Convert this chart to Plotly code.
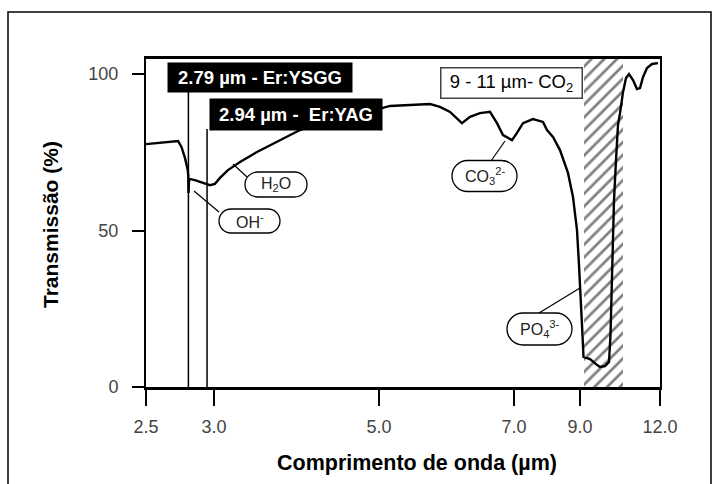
import numpy as np
import plotly.graph_objects as go

# ---------------- data ----------------
WAVELENGTH_UM = [
    2.500, 2.622, 2.713, 2.738, 2.764, 2.785, 2.789, 2.791, 2.795, 2.840,
    2.901, 2.965, 3.007, 3.044, 3.105, 3.202, 3.349, 3.571, 3.790, 4.174,
    4.644, 5.032, 5.119, 5.605, 5.741, 5.884, 6.065, 6.193, 6.359, 6.535,
    6.664, 6.779, 6.878, 6.959, 7.071, 7.219, 7.478, 7.757, 7.875, 8.058,
    8.282, 8.555, 8.735, 8.884, 8.961, 9.028, 9.071, 9.099, 9.290, 9.473,
    9.600, 9.763, 9.897, 9.948, 10.000, 10.070, 10.141, 10.212, 10.286, 10.397,
    10.511, 10.627, 10.786, 10.950, 11.077, 11.206, 11.383, 11.613, 11.901,
]
TRANSMISSION_PCT = [
    77.6, 78.3, 78.6, 76.7, 73.2, 69.3, 67.4, 62.0, 66.5, 66.1,
    65.2, 64.5, 64.9, 66.8, 69.3, 71.9, 75.1, 78.9, 82.1, 85.6,
    88.2, 89.1, 89.8, 90.4, 89.5, 87.9, 84.3, 86.3, 87.5, 87.9,
    84.3, 80.5, 79.6, 78.9, 81.2, 84.3, 85.6, 84.7, 82.1, 79.9,
    75.7, 68.4, 60.7, 50.2, 39.0, 27.8, 16.6, 9.6, 8.9, 7.3,
    6.4, 6.7, 8.0, 16.6, 34.2, 59.7, 72.5, 83.7, 87.5, 94.2,
    98.7, 100.0, 98.1, 95.2, 95.5, 99.0, 101.9, 103.2, 103.5,
]
TICK_WL = [2.5, 3.0, 5.0, 7.0, 9.0, 12.0]
TICK_LABELS = ["2.5", "3.0", "5.0", "7.0", "9.0", "12.0"]
Y_TICKS = [0, 50, 100]
LASER_LINES_UM = [2.79, 2.94]
LASER_LABELS = ["<b>2.79 µm - Er:YSGG</b>", "<b>2.94 µm -  Er:YAG</b>"]
CO2_BAND_UM = [9.114, 10.397]
CO2_LABEL = "9 - 11 µm- CO<sub>2</sub>"
BAND_LABELS = ["H<sub>2</sub>O", "OH<sup>-</sup>",
               "CO<sub>3</sub><sup>2-</sup>", "PO<sub>4</sub><sup>3-</sup>"]
X_TITLE = "<b>Comprimento de onda (µm)</b>"
Y_TITLE = "<b>Transmissão (%)</b>"

# ---------------- layout geometry ----------------
W, H = 719, 484
L, R, T, B = 146, 660, 59, 387          # plot-area pixel bounds
Y_MAX = 104.8
TICK_POS = [0, 68, 233, 368, 434, 514]  # split (wavenumber-type) scale


def wl2pos(wl):
    return np.interp(-1e4 / np.asarray(wl, float),
                     -1e4 / np.asarray(TICK_WL, float), TICK_POS)


def px_x(px):
    return px - L


def px_y(py):
    return (B - py) * Y_MAX / (B - T)


def pap_x(px):
    return (px - L) / (R - L)


def pap_y(py):
    return (B - py) / (B - T)


def pill_path(w, h):
    r = h / 2.0
    k = 0.5523 * r
    a = w / 2.0 - r
    hw = w / 2.0
    return (f"M {-a},{-r} L {a},{-r} C {a + k},{-r} {hw},{-k} {hw},0 "
            f"C {hw},{k} {a + k},{r} {a},{r} L {-a},{r} "
            f"C {-a - k},{r} {-hw},{k} {-hw},0 C {-hw},{-k} {-a - k},{-r} {-a},{-r} Z")


FONT = "Arial, Liberation Sans, Helvetica, sans-serif"

fig = go.Figure()

# hatched CO2 band
p0, p1 = wl2pos(CO2_BAND_UM)
fig.add_bar(
    x=[(p0 + p1) / 2], y=[Y_MAX], width=[p1 - p0], base=0,
    marker=dict(color="white", line=dict(width=0),
                pattern=dict(shape="/", fgcolor="black", bgcolor="white",
                             size=9, solidity=0.3)),
    hoverinfo="skip", showlegend=False,
)

# spectrum
fig.add_scatter(
    x=wl2pos(WAVELENGTH_UM), y=TRANSMISSION_PCT, mode="lines",
    line=dict(color="black", width=2.4), showlegend=False, hoverinfo="skip",
)

shapes = []
annotations = []

# laser lines
line_tops = [px_y(92), px_y(129)]
for wl, top in zip(LASER_LINES_UM, line_tops):
    xp = float(wl2pos(wl))
    shapes.append(dict(type="line", xref="x", yref="y", x0=xp, x1=xp, y0=0, y1=top,
                       line=dict(color="black", width=1.5)))

# laser label boxes (black)
boxes = [((260, 77.5), 184, 29), ((296, 114.5), 172, 31)]
for text, ((cx, cy), bw, bh) in zip(LASER_LABELS, boxes):
    annotations.append(dict(
        x=px_x(cx), y=px_y(cy), xref="x", yref="y", text=text, showarrow=False,
        xanchor="center", yanchor="middle", width=bw, height=bh, borderpad=0,
        bgcolor="black", font=dict(family=FONT, size=18.5, color="white"),
    ))

# CO2 band label box
annotations.append(dict(
    x=px_x(511), y=px_y(82.5), xref="x", yref="y", text=CO2_LABEL, showarrow=False,
    xanchor="center", yanchor="middle", width=140, height=29, borderpad=0,
    bgcolor="white", bordercolor="#444", borderwidth=1.5,
    font=dict(family=FONT, size=18.5, color="black"),
))

# band pills: (centre px, size, leader from curve -> pill)
pills = [
    ((276, 184.5), (62, 25), ((233, 164), (247, 177))),
    ((249.5, 221), (61, 24), ((194, 191), (219, 212))),
    ((484.5, 176), (65, 31), ((505, 141), (491, 161))),
    ((539.5, 329), (65, 32), ((580, 288), (539, 313))),
]
for text, ((cx, cy), (pw, ph), ((lx0, ly0), (lx1, ly1))) in zip(BAND_LABELS, pills):
    shapes.append(dict(type="line", xref="x", yref="y",
                       x0=px_x(lx0), y0=px_y(ly0), x1=px_x(lx1), y1=px_y(ly1),
                       line=dict(color="black", width=1.2)))
    shapes.append(dict(type="path", xref="x", yref="y",
                       xsizemode="pixel", ysizemode="pixel",
                       xanchor=px_x(cx), yanchor=px_y(cy),
                       path=pill_path(pw, ph), fillcolor="white",
                       line=dict(color="black", width=1.3)))
    annotations.append(dict(
        x=px_x(cx), y=px_y(cy), xref="x", yref="y", text=text, showarrow=False,
        xanchor="center", yanchor="middle",
        font=dict(family=FONT, size=16, color="#222"),
    ))

# axis titles
annotations.append(dict(
    x=pap_x(417), y=pap_y(463), xref="paper", yref="paper", text=X_TITLE,
    showarrow=False, xanchor="center", yanchor="middle",
    font=dict(family=FONT, size=21.5, color="black"),
))
annotations.append(dict(
    x=pap_x(50), y=pap_y(225), xref="paper", yref="paper", text=Y_TITLE,
    showarrow=False, xanchor="center", yanchor="middle", textangle=-90,
    font=dict(family=FONT, size=21, color="black"),
))

# outer frame of the whole figure
shapes.append(dict(type="rect", xref="paper", yref="paper",
                   x0=pap_x(8), x1=pap_x(711), y0=pap_y(495), y1=pap_y(12),
                   line=dict(color="black", width=1.5), fillcolor="rgba(0,0,0,0)",
                   layer="below"))

fig.update_layout(
    width=W, height=H,
    margin=dict(l=L, r=W - R, t=T, b=H - B),
    paper_bgcolor="white", plot_bgcolor="white",
    showlegend=False, bargap=0,
    shapes=shapes, annotations=annotations,
    xaxis=dict(
        range=[0, TICK_POS[-1]], tickvals=list(wl2pos(TICK_WL)), ticktext=TICK_LABELS,
        ticks="outside", ticklen=16, tickwidth=2, tickcolor="black",
        showline=True, linewidth=2.5, linecolor="black", mirror=True,
        showgrid=False, zeroline=False, ticklabelstandoff=6,
        tickfont=dict(family=FONT, size=18, color="#444"),
    ),
    yaxis=dict(
        range=[0, Y_MAX], tickvals=Y_TICKS,
        ticks="outside", ticklen=12, tickwidth=2, tickcolor="black",
        showline=True, linewidth=2, linecolor="black", mirror=True,
        showgrid=False, zeroline=False, ticklabelstandoff=10,
        tickfont=dict(family=FONT, size=18, color="#444"),
    ),
)

fig.write_html("out.html",
               config={"displayModeBar": False},
               post_script="document.body.style.margin='0px';"
                           "document.documentElement.style.overflow='hidden';")
